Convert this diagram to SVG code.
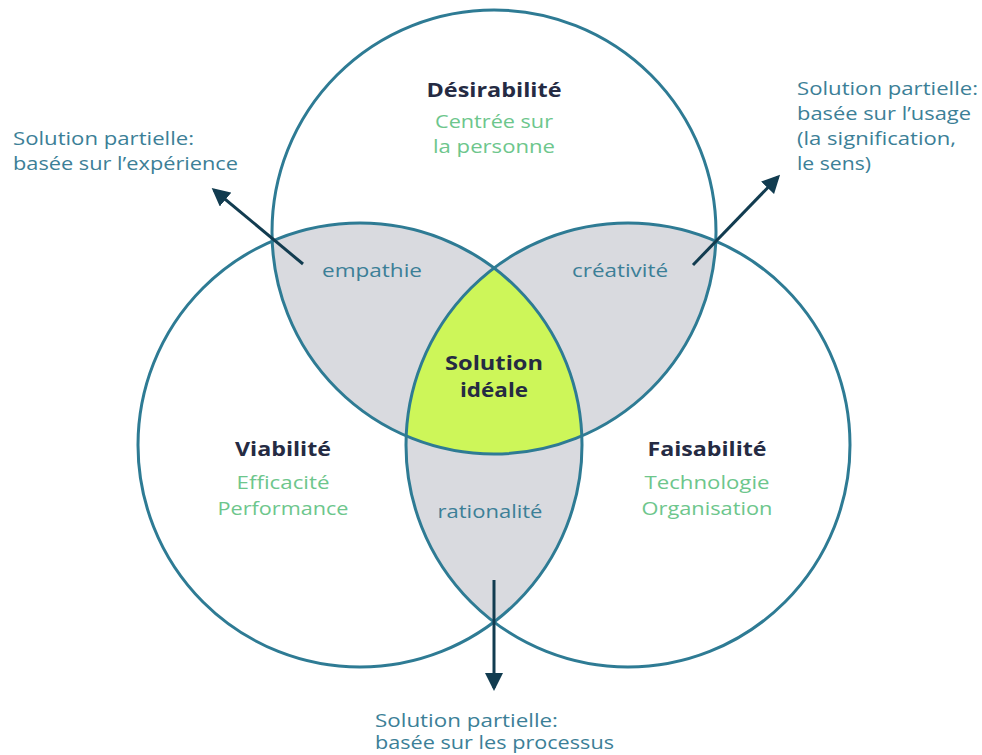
<svg xmlns="http://www.w3.org/2000/svg" width="982" height="755" viewBox="0 0 982 755">
<style>
text{font-family:"Open Sans","Liberation Sans",sans-serif}
.ring{fill:none;stroke:#2e7b94;stroke-width:3}
.gray{fill:#d9dadf}
.title{font-size:20px;font-weight:700;fill:#252b43;text-anchor:middle}
.sub{font-size:18px;fill:#6dc68c;text-anchor:middle}
.zone{font-size:18px;fill:#3c7f97;text-anchor:middle}
.note{font-size:18px;fill:#3c7f97}
.arrow{stroke:#123c50;stroke-width:3;fill:none;marker-end:url(#ah)}
</style>
<defs>
<marker id="ah" markerWidth="6" markerHeight="6" refX="5" refY="3" orient="auto" markerUnits="strokeWidth">
<path d="M0,0 L6,3 L0,6 Z" fill="#123c50"/>
</marker>
<clipPath id="cT"><circle cx="494" cy="232" r="222"/></clipPath>
<clipPath id="cL"><circle cx="360" cy="445" r="222"/></clipPath>
<clipPath id="cR"><circle cx="628" cy="445" r="222"/></clipPath>
</defs>
<rect width="982" height="755" fill="#ffffff"/>
<g id="fills">
<circle class="gray" cx="360" cy="445" r="222" clip-path="url(#cT)"/>
<circle class="gray" cx="628" cy="445" r="222" clip-path="url(#cT)"/>
<circle class="gray" cx="628" cy="445" r="222" clip-path="url(#cL)"/>
<g clip-path="url(#cT)"><circle cx="628" cy="445" r="222" fill="#cdf659" clip-path="url(#cL)"/></g>
</g>
<g id="desirabilite">
<circle class="ring" cx="494" cy="232" r="222"/>
<text class="title" x="494" y="97" textLength="135" lengthAdjust="spacingAndGlyphs">Désirabilité</text>
<text class="sub" x="494" y="128" textLength="118" lengthAdjust="spacingAndGlyphs">Centrée sur</text>
<text class="sub" x="494" y="153" textLength="122" lengthAdjust="spacingAndGlyphs">la personne</text>
</g>
<g id="viabilite">
<circle class="ring" cx="360" cy="445" r="222"/>
<text class="title" x="283" y="456" textLength="96" lengthAdjust="spacingAndGlyphs">Viabilité</text>
<text class="sub" x="283" y="489" textLength="93" lengthAdjust="spacingAndGlyphs">Efficacité</text>
<text class="sub" x="283" y="515" textLength="131" lengthAdjust="spacingAndGlyphs">Performance</text>
</g>
<g id="faisabilite">
<circle class="ring" cx="628" cy="445" r="222"/>
<text class="title" x="707" y="456" textLength="119" lengthAdjust="spacingAndGlyphs">Faisabilité</text>
<text class="sub" x="707" y="489" textLength="125" lengthAdjust="spacingAndGlyphs">Technologie</text>
<text class="sub" x="707" y="515" textLength="131" lengthAdjust="spacingAndGlyphs">Organisation</text>
</g>
<g id="empathie"><text class="zone" x="372" y="277" textLength="100" lengthAdjust="spacingAndGlyphs">empathie</text></g>
<g id="creativite"><text class="zone" x="620" y="277" textLength="96" lengthAdjust="spacingAndGlyphs">créativité</text></g>
<g id="rationalite"><text class="zone" x="490" y="518" textLength="105" lengthAdjust="spacingAndGlyphs">rationalité</text></g>
<g id="solution-ideale">
<text class="title" x="494" y="370" textLength="98" lengthAdjust="spacingAndGlyphs">Solution</text>
<text class="title" x="494" y="397" textLength="68" lengthAdjust="spacingAndGlyphs">idéale</text>
</g>
<g id="connectors">
<line class="arrow" x1="303" y1="264" x2="214" y2="190"/>
<line class="arrow" x1="693" y1="265" x2="778" y2="177"/>
<line class="arrow" x1="494" y1="580" x2="494" y2="688"/>
</g>
<g id="note-experience">
<text class="note" x="13" y="145" textLength="181" lengthAdjust="spacingAndGlyphs">Solution partielle:</text>
<text class="note" x="13" y="170" textLength="225" lengthAdjust="spacingAndGlyphs">basée sur l’expérience</text>
</g>
<g id="note-usage">
<text class="note" x="797" y="95" textLength="181" lengthAdjust="spacingAndGlyphs">Solution partielle:</text>
<text class="note" x="797" y="120" textLength="174" lengthAdjust="spacingAndGlyphs">basée sur l’usage</text>
<text class="note" x="797" y="145" textLength="159" lengthAdjust="spacingAndGlyphs">(la signification,</text>
<text class="note" x="797" y="170" textLength="74" lengthAdjust="spacingAndGlyphs">le sens)</text>
</g>
<g id="note-processus">
<text class="note" x="375" y="727" textLength="183" lengthAdjust="spacingAndGlyphs">Solution partielle:</text>
<text class="note" x="375" y="749" textLength="239" lengthAdjust="spacingAndGlyphs">basée sur les processus</text>
</g>
</svg>
